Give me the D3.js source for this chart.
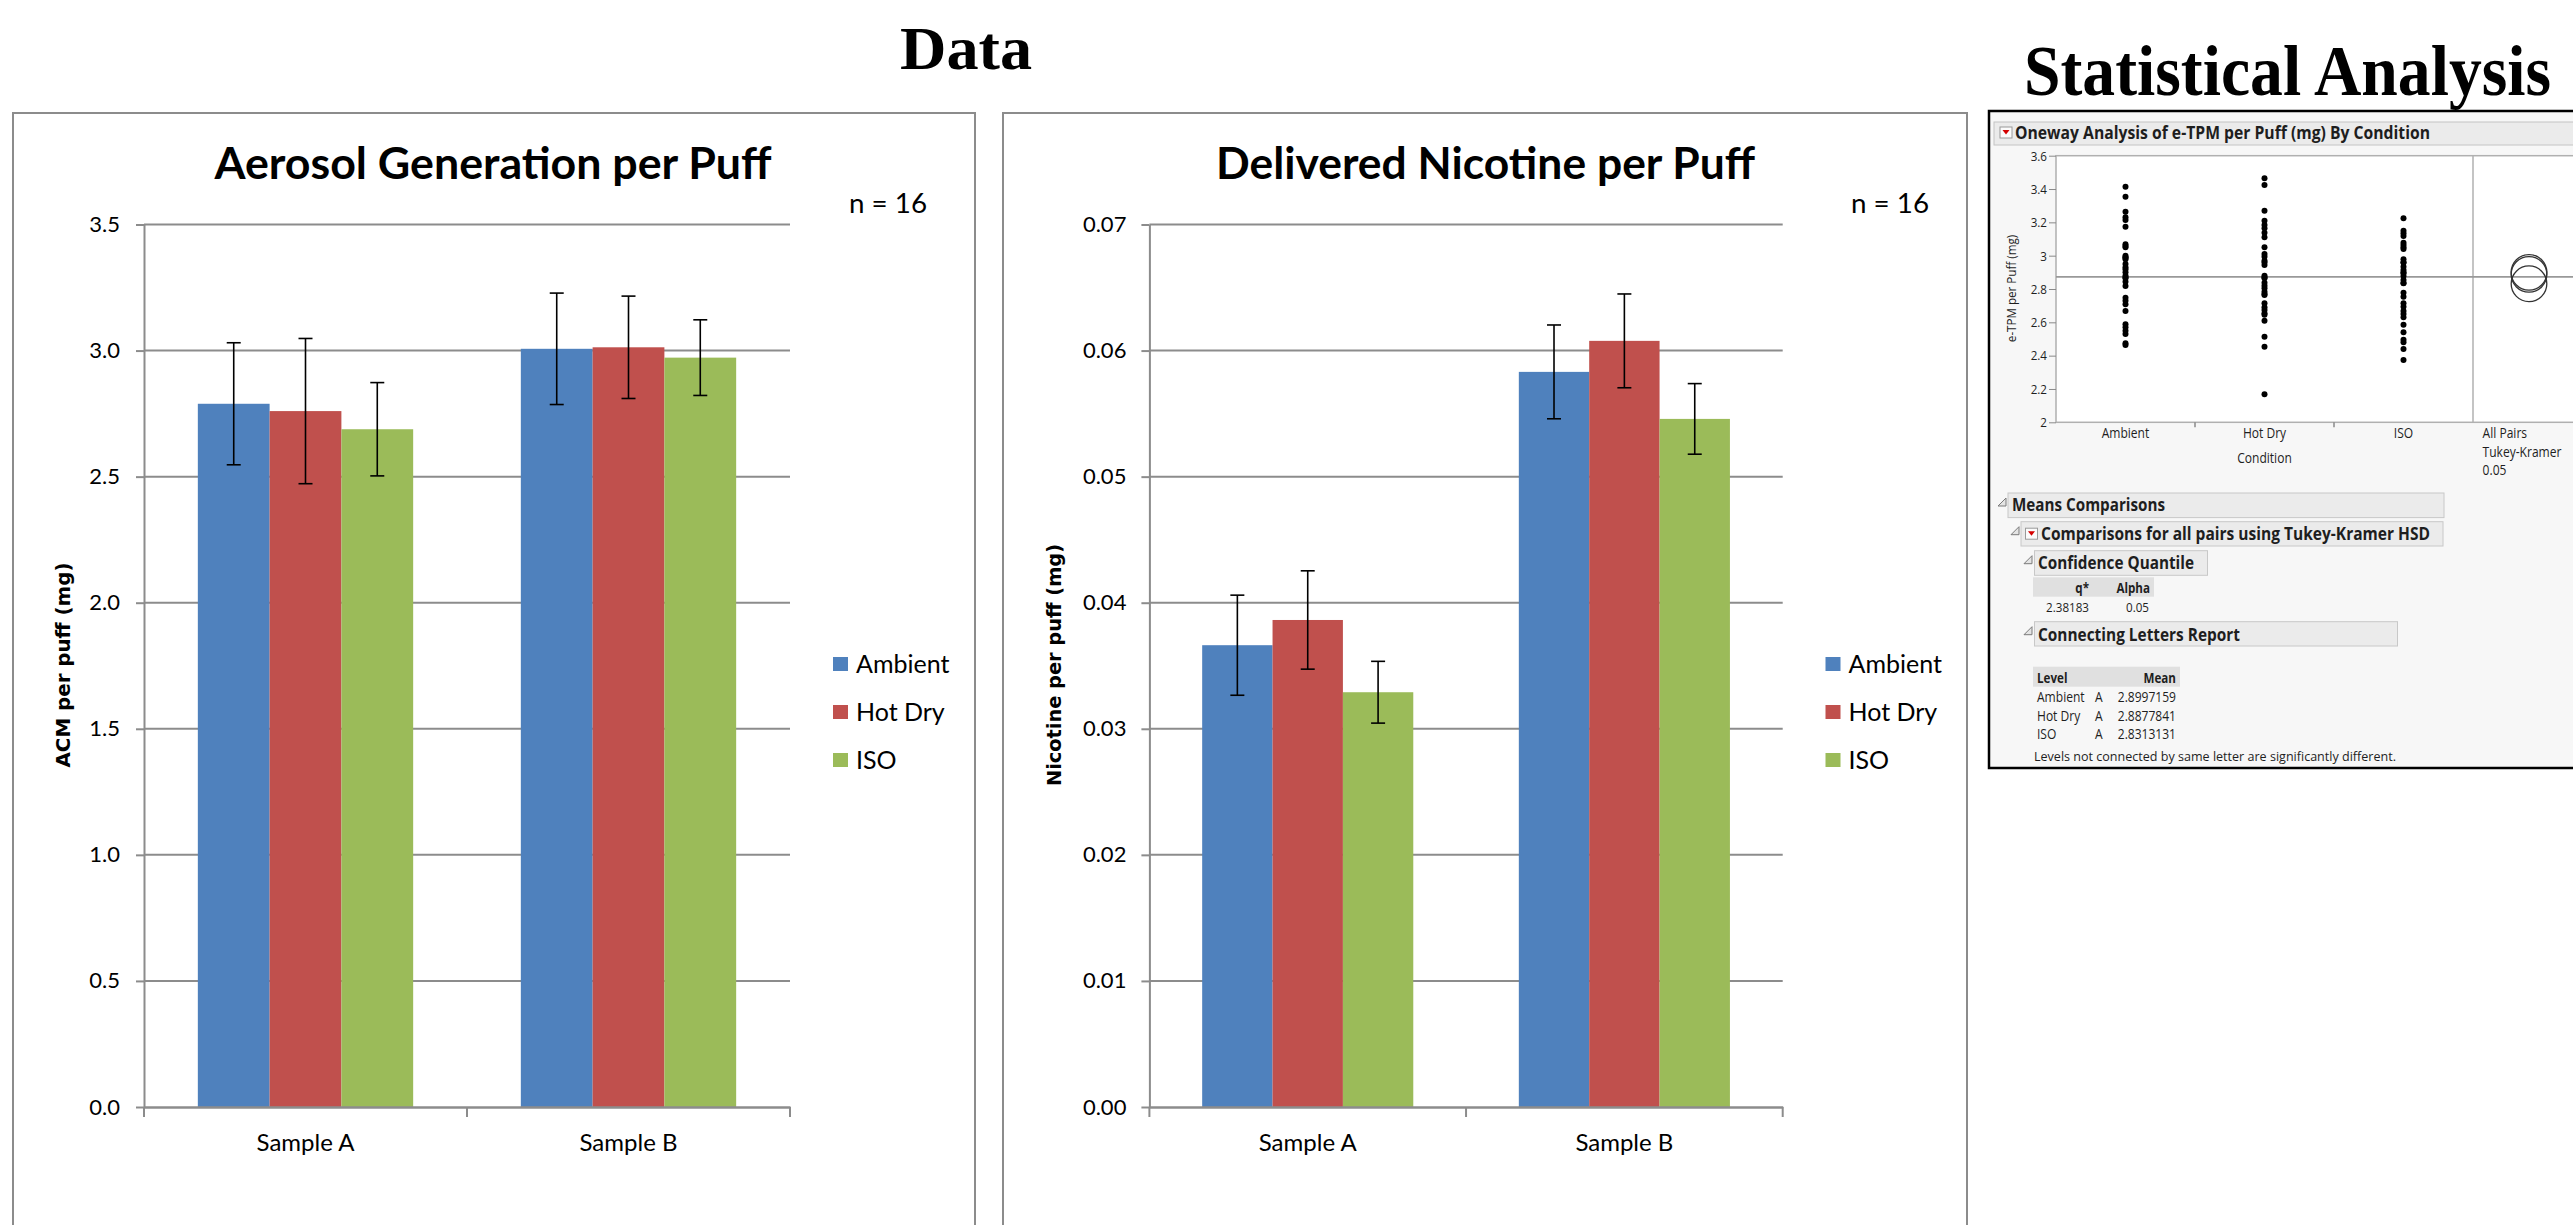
<!DOCTYPE html>
<html>
<head>
<meta charset="UTF-8" />
<title>Data and Statistical Analysis</title>
<script src="https://d3js.org/d3.v7.min.js"></script>
<style>
body { margin: 0; background: #fff; }
svg { display: block; }
.xl text { font-family: Lato, "Open Sans", sans-serif; fill: #000; }
.jmp text { font-family: "Open Sans", "Noto Sans", sans-serif; fill: #1e1e1e; }
.head text { font-family: "Liberation Serif", "DejaVu Serif", serif; font-weight: bold; fill: #000; }
</style>
</head>
<body>
<script>
// ---- data ----
var samples = ["Sample A", "Sample B"];
var conditions = ["Ambient", "Hot Dry", "ISO"];
var colors = ["#4f81bd", "#c0504d", "#9bbb59"];

var acmMeans = [[2.789, 2.760, 2.688], [3.007, 3.013, 2.972]];
var acmErr = [[0.242, 0.288, 0.185], [0.221, 0.203, 0.150]];
var acmTicks = [0, 0.5, 1.0, 1.5, 2.0, 2.5, 3.0, 3.5];

var nicMeans = [[0.03663, 0.03863, 0.03290], [0.05831, 0.06077, 0.05458]];
var nicErr = [[0.00397, 0.00390, 0.00245], [0.00372, 0.00372, 0.00280]];
var nicTicks = [0, 0.01, 0.02, 0.03, 0.04, 0.05, 0.06, 0.07];

// JMP oneway plot: individual e-TPM per puff values (mg)
var ambientPts = [3.414, 3.354, 3.264, 3.23, 3.214, 3.174, 3.068, 3.058, 3.05, 3.0, 2.99, 2.988,
  2.978, 2.95, 2.93, 2.918, 2.90, 2.88, 2.87, 2.864, 2.844, 2.818, 2.748, 2.73, 2.708, 2.668,
  2.588, 2.57, 2.55, 2.53, 2.474, 2.464];
var hotDryPts = [3.464, 3.424, 3.27, 3.21, 3.184, 3.164, 3.138, 3.11, 3.05, 3.01, 2.994, 2.97,
  2.96, 2.944, 2.88, 2.87, 2.864, 2.838, 2.82, 2.804, 2.784, 2.77, 2.764, 2.714, 2.69, 2.674,
  2.654, 2.646, 2.61, 2.514, 2.454, 2.168];
var isoPts = [3.224, 3.15, 3.134, 3.118, 3.078, 3.064, 3.05, 3.04, 2.978, 2.96, 2.958, 2.934,
  2.914, 2.90, 2.894, 2.878, 2.854, 2.836, 2.834, 2.778, 2.754, 2.714, 2.694, 2.668, 2.65, 2.63,
  2.586, 2.54, 2.496, 2.48, 2.44, 2.374];
var jmpTicks = [2, 2.2, 2.4, 2.6, 2.8, 3, 3.2, 3.4, 3.6];
var levelMeans = [2.8997159, 2.8877841, 2.8313131];
var levelLetters = ["A", "A", "A"];
var circleRadius = 0.107;
var qStar = ["2.38183"], alphaVal = ["0.05"];

var W = 2573, H = 1225;
var svg = d3.select("body").append("svg").attr("width", W).attr("height", H);
svg.append("rect").attr("width", W).attr("height", H).attr("fill", "#fff");

// page headings
var head = svg.append("g").attr("class", "head");
head.append("text").attr("x", 900).attr("y", 69).attr("font-size", 62)
  .attr("textLength", 132).attr("lengthAdjust", "spacingAndGlyphs").text("Data");
head.append("text").attr("transform", "translate(2024,95) scale(0.98,1.08)").attr("font-size", 67)
  .text("Statistical Analysis");

// ---- Excel style clustered bars ----
function barChart(c) {
  var g = svg.append("g").attr("class", "xl");
  g.append("rect").attr("x", c.box[0]).attr("y", 113)
    .attr("width", c.box[1] - c.box[0]).attr("height", 1240)
    .attr("fill", "#fff").attr("stroke", "#8c8c8c").attr("stroke-width", 2);

  var y = d3.scaleLinear().domain([0, c.ticks[c.ticks.length - 1]]).range([1107, 224.5]);
  var x0 = d3.scaleBand().domain(samples).range(c.plot);
  var x1 = d3.scaleBand().domain(conditions).range([0, x0.bandwidth()]).paddingOuter(0.75);

  // gridlines
  g.append("g").selectAll("line").data(c.ticks.slice(1)).join("line")
    .attr("x1", c.plot[0]).attr("x2", c.plot[1])
    .attr("y1", function(d) { return y(d); }).attr("y2", function(d) { return y(d); })
    .attr("stroke", "#8c8c8c").attr("stroke-width", 2);

  var ya = g.append("g").attr("transform", "translate(" + c.plot[0] + ",0)")
    .call(d3.axisLeft(y).tickValues(c.ticks).tickFormat(d3.format(c.fmt))
      .tickSize(8).tickSizeOuter(0).tickPadding(c.pad));
  ya.selectAll("line, path").attr("stroke", "#8c8c8c").attr("stroke-width", 2);
  ya.selectAll("text").attr("font-size", 22);

  var rows = [];
  samples.forEach(function(s, i) {
    conditions.forEach(function(k, j) {
      rows.push({ s: s, k: k, j: j, v: c.means[i][j], e: c.errs[i][j] });
    });
  });

  g.append("g").selectAll("rect").data(rows).join("rect")
    .attr("x", function(d) { return x0(d.s) + x1(d.k); })
    .attr("width", x1.bandwidth())
    .attr("y", function(d) { return y(d.v); })
    .attr("height", function(d) { return y(0) - y(d.v); })
    .attr("fill", function(d) { return colors[d.j]; });

  // error bars
  var eb = g.append("g").attr("stroke", "#000").attr("stroke-width", 1.6);
  var cx = function(d) { return x0(d.s) + x1(d.k) + x1.bandwidth() / 2; };
  eb.selectAll(".v").data(rows).join("line").attr("class", "v")
    .attr("x1", cx).attr("x2", cx)
    .attr("y1", function(d) { return y(d.v + d.e); })
    .attr("y2", function(d) { return y(d.v - d.e); });
  [1, -1].forEach(function(sg) {
    eb.selectAll(".c" + sg).data(rows).join("line").attr("class", "c" + sg)
      .attr("x1", function(d) { return cx(d) - 7; }).attr("x2", function(d) { return cx(d) + 7; })
      .attr("y1", function(d) { return y(d.v + sg * d.e); })
      .attr("y2", function(d) { return y(d.v + sg * d.e); });
  });

  // category axis
  var xa = g.append("g").attr("transform", "translate(0," + y(0) + ")")
    .call(d3.axisBottom(x0).tickSize(0).tickSizeOuter(0));
  xa.select("path").attr("stroke", "#8c8c8c").attr("stroke-width", 2.5);
  xa.selectAll("text").attr("y", 44).attr("dy", 0).attr("font-size", 24);
  var edges = samples.map(function(s) { return x0(s); }).concat([c.plot[1]]);
  xa.selectAll(".edge").data(edges).join("line").attr("class", "edge")
    .attr("x1", function(d) { return d; }).attr("x2", function(d) { return d; })
    .attr("y1", 0).attr("y2", 10).attr("stroke", "#8c8c8c").attr("stroke-width", 2);

  g.append("text").attr("x", c.titleX).attr("y", 179).attr("text-anchor", "middle")
    .attr("font-size", 44).attr("font-weight", "bold")
    .attr("textLength", c.titleLen).attr("lengthAdjust", "spacingAndGlyphs").text(c.title);
  g.append("text").attr("x", c.nX).attr("y", 213).attr("font-size", 26)
    .attr("textLength", 78).attr("lengthAdjust", "spacingAndGlyphs").text("n = 16");

  g.append("text").attr("transform", "translate(" + c.ylX + ",665) rotate(-90)")
    .attr("text-anchor", "middle").attr("dy", "0.35em")
    .style("font-family", "'DejaVu Sans', sans-serif").attr("font-weight", "bold").attr("font-size", 20)
    .attr("textLength", c.ylLen).attr("lengthAdjust", "spacingAndGlyphs").text(c.yLabel);

  // legend
  var lg = g.append("g").selectAll("g").data(conditions).join("g")
    .attr("transform", function(d, j) { return "translate(" + c.legX + "," + (657 + 48 * j) + ")"; });
  lg.append("rect").attr("width", 15).attr("height", 14).attr("fill", function(d, j) { return colors[j]; });
  lg.append("text").attr("x", 23).attr("y", 16).attr("font-size", 25).text(function(d) { return d; });
}

barChart({ box: [13, 975], plot: [144, 790], ticks: acmTicks, fmt: ".1f", pad: 16,
  means: acmMeans, errs: acmErr, title: "Aerosol Generation per Puff", titleX: 493, titleLen: 557,
  nX: 849, yLabel: "ACM per puff (mg)", ylX: 63, ylLen: 205, legX: 833 });
barChart({ box: [1003, 1967], plot: [1149.4, 1782.7], ticks: nicTicks, fmt: ".2f", pad: 15,
  means: nicMeans, errs: nicErr, title: "Delivered Nicotine per Puff", titleX: 1485.5, titleLen: 539,
  nX: 1851, yLabel: "Nicotine per puff (mg)", ylX: 1054, ylLen: 242, legX: 1825.5 });

// ---- JMP oneway report ----
var jg = svg.append("g").attr("class", "jmp");
jg.append("rect").attr("x", 1989).attr("y", 111).attr("width", 700).attr("height", 657)
  .attr("fill", "#f7f7f7").attr("stroke", "#000").attr("stroke-width", 2.5);

function redButton(x, y) {
  jg.append("rect").attr("x", x).attr("y", y).attr("width", 12).attr("height", 11)
    .attr("fill", "#fbfbfb").attr("stroke", "#9a9a9a");
  jg.append("path").attr("d", "M" + (x + 2.5) + "," + (y + 3) + "h7l-3.5,4.5z").attr("fill", "#d40000");
}
function disclosure(x, y) {
  jg.append("path").attr("d", "M" + (x + 8) + "," + y + "v8h-8z")
    .attr("fill", "#e4e4e4").attr("stroke", "#7a7a7a").attr("stroke-width", 1);
}

jg.append("rect").attr("x", 1994).attr("y", 122).attr("width", 700).attr("height", 23)
  .attr("fill", "#ebebeb").attr("stroke", "#c4c4c4");
redButton(2000, 127);
jg.append("text").attr("x", 2015).attr("y", 139.3).attr("font-size", 17.5).attr("font-weight", "bold")
  .attr("textLength", 415).attr("lengthAdjust", "spacingAndGlyphs")
  .text("Oneway Analysis of e-TPM per Puff (mg) By Condition");

var jy = d3.scaleLinear().domain([2, 3.6]).range([422.3, 155.7]);
var jx = d3.scaleBand().domain(conditions).range([2056, 2473]);

jg.append("rect").attr("x", 2056).attr("y", jy(3.6)).attr("width", 600).attr("height", jy(2) - jy(3.6))
  .attr("fill", "#fff").attr("stroke", "#b0b0b0").attr("stroke-width", 1.5);
jg.append("line").attr("x1", 2473).attr("x2", 2473).attr("y1", jy(3.6)).attr("y2", jy(2))
  .attr("stroke", "#b0b0b0").attr("stroke-width", 1.5);

var jya = jg.append("g").attr("transform", "translate(2056,0)")
  .call(d3.axisLeft(jy).tickValues(jmpTicks).tickSize(7).tickSizeOuter(0).tickPadding(2)
    .tickFormat(function(d) { return d % 1 === 0 ? d3.format("d")(d) : d3.format(".1f")(d); }));
jya.select("path").remove();
jya.selectAll("line").attr("stroke", "#8a8a8a");
jya.selectAll("text").attr("font-size", 13.5);

var jxa = jg.append("g").attr("transform", "translate(0," + jy(2) + ")");
jxa.selectAll("line").data(conditions.slice(1).map(function(k) { return jx(k); })).join("line")
  .attr("x1", function(d) { return d; }).attr("x2", function(d) { return d; })
  .attr("y1", 0).attr("y2", 5).attr("stroke", "#8a8a8a").attr("stroke-width", 1.5);
jxa.selectAll("text").data(conditions).join("text")
  .attr("x", function(d) { return jx(d) + jx.bandwidth() / 2; }).attr("y", 438 - jy(2))
  .attr("text-anchor", "middle").attr("font-size", 14).text(function(d) { return d; });
jg.append("text").attr("x", 2264.5).attr("y", 462.7).attr("text-anchor", "middle")
  .attr("font-size", 14).text("Condition");
["All Pairs", "Tukey-Kramer", "0.05"].forEach(function(t, i) {
  jg.append("text").attr("x", 2482.6).attr("y", 438 + 18.7 * i).attr("font-size", 14).text(t);
});
jg.append("text").attr("transform", "translate(2011,288.5) rotate(-90)")
  .attr("text-anchor", "middle").attr("dy", "0.35em").attr("font-size", 13.5)
  .text("e-TPM per Puff (mg)");

// grand mean line
jg.append("line").attr("x1", 2056).attr("x2", 2600)
  .attr("y1", jy(d3.mean(levelMeans))).attr("y2", jy(d3.mean(levelMeans)))
  .attr("stroke", "#999").attr("stroke-width", 1.6);

var groups = [ambientPts, hotDryPts, isoPts];
groups.forEach(function(pts, i) {
  jg.append("g").selectAll("circle").data(pts).join("circle")
    .attr("cx", jx(conditions[i]) + jx.bandwidth() / 2)
    .attr("cy", function(d) { return jy(d); }).attr("r", 3).attr("fill", "#000");
});

// comparison circles
jg.append("g").selectAll("circle").data(levelMeans).join("circle")
  .attr("cx", 2529).attr("cy", function(d) { return jy(d); })
  .attr("r", function(d) { return jy(d - circleRadius) - jy(d); })
  .attr("fill", "none").attr("stroke", "#333").attr("stroke-width", 1.3);

// report outline nodes
var nodes = [
  { x: 2008, y: 493, w: 436, h: 24.6, t: "Means Comparisons", tx: 2012, ty: 510.7, tl: 153, tri: 1998, btn: false },
  { x: 2021, y: 521.7, w: 422, h: 24.3, t: "Comparisons for all pairs using Tukey-Kramer HSD", tx: 2041, ty: 540, tl: 389, tri: 2011, btn: true },
  { x: 2034.5, y: 550.7, w: 173, h: 24.6, t: "Confidence Quantile", tx: 2038, ty: 569, tl: 156, tri: 2024, btn: false },
  { x: 2034.5, y: 621.7, w: 363, h: 24.3, t: "Connecting Letters Report", tx: 2038, ty: 640.7, tl: 202, tri: 2024, btn: false }
];
nodes.forEach(function(n) {
  jg.append("rect").attr("x", n.x).attr("y", n.y).attr("width", n.w).attr("height", n.h)
    .attr("fill", "#ebebeb").attr("stroke", "#c8c8c8");
  disclosure(n.tri, n.y + 5);
  if (n.btn) redButton(2025.5, n.y + 6.5);
  jg.append("text").attr("x", n.tx).attr("y", n.ty).attr("font-size", 17).attr("font-weight", "bold")
    .attr("textLength", n.tl).attr("lengthAdjust", "spacingAndGlyphs").text(n.t);
});

// confidence quantile table
jg.append("rect").attr("x", 2033).attr("y", 577.3).attr("width", 121).attr("height", 19.4).attr("fill", "#e0e0e0");
jg.append("text").attr("x", 2089).attr("y", 593.3).attr("text-anchor", "end").attr("font-size", 13.5).attr("font-weight", "bold").text("q*");
jg.append("text").attr("x", 2150).attr("y", 593.3).attr("text-anchor", "end").attr("font-size", 13.5).attr("font-weight", "bold").text("Alpha");
jg.append("text").attr("x", 2089).attr("y", 611.7).attr("text-anchor", "end").attr("font-size", 13.5).text(qStar[0]);
jg.append("text").attr("x", 2149).attr("y", 611.7).attr("text-anchor", "end").attr("font-size", 13.5).text(alphaVal[0]);

// connecting letters table
jg.append("rect").attr("x", 2033).attr("y", 666.7).attr("width", 147).attr("height", 20).attr("fill", "#e0e0e0");
jg.append("text").attr("x", 2037).attr("y", 683.3).attr("font-size", 13.5).attr("font-weight", "bold").text("Level");
jg.append("text").attr("x", 2176).attr("y", 683.3).attr("text-anchor", "end").attr("font-size", 13.5).attr("font-weight", "bold").text("Mean");
var lr = jg.append("g").selectAll("g").data(conditions).join("g")
  .attr("transform", function(d, i) { return "translate(0," + (701.7 + 18.8 * i) + ")"; });
lr.append("text").attr("x", 2037).attr("font-size", 14).text(function(d) { return d; });
lr.append("text").attr("x", 2095).attr("font-size", 14).text(function(d, i) { return levelLetters[i]; });
lr.append("text").attr("x", 2176).attr("text-anchor", "end").attr("font-size", 14)
  .text(function(d, i) { return d3.format(".7f")(levelMeans[i]); });
jg.append("text").attr("x", 2034).attr("y", 761).attr("font-size", 13.5)
  .attr("textLength", 362).attr("lengthAdjust", "spacingAndGlyphs")
  .text("Levels not connected by same letter are significantly different.");

// JMP uses a narrower face than Open Sans: squeeze the remaining report texts
jg.selectAll("text").each(function() {
  var t = d3.select(this);
  if (t.attr("textLength") == null) {
    t.attr("textLength", this.getComputedTextLength() * 0.86).attr("lengthAdjust", "spacingAndGlyphs");
  }
});
</script>
</body>
</html>
